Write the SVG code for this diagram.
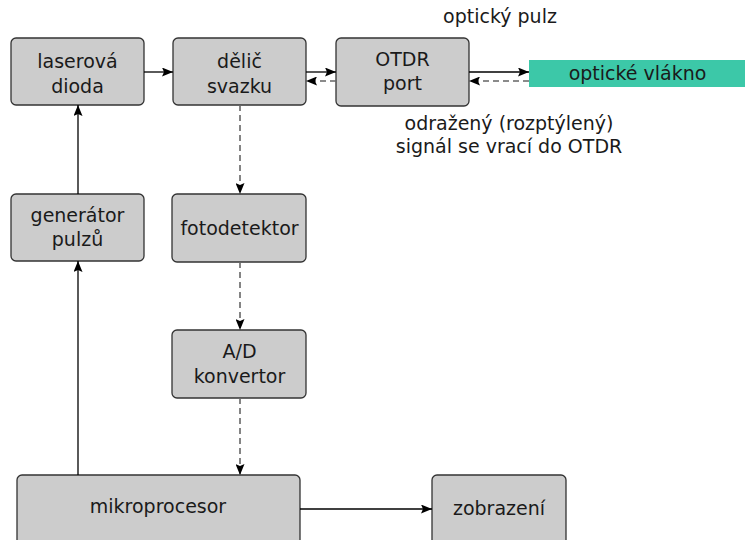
<svg xmlns="http://www.w3.org/2000/svg" width="745" height="540" viewBox="0 0 745 540">
<defs>
<marker id="ah" viewBox="0 0 11 9" refX="11" refY="4.5" markerWidth="11" markerHeight="9" markerUnits="userSpaceOnUse" orient="auto">
<path d="M0,0 L11,4.5 L0,9 L2,4.5 z" fill="#000"/>
</marker>
<style>
.box{fill:#cccccc;stroke:#333;stroke-width:1.3}
text{font-family:"DejaVu Sans","Liberation Sans",sans-serif;font-size:19px;fill:#1a1a1a;text-anchor:middle}
.s{fill:none;stroke:#000;stroke-width:1.3;marker-end:url(#ah)}
.d{fill:none;stroke:#666;stroke-width:1.6;stroke-dasharray:6,4;marker-end:url(#ah)}
</style>
</defs>
<rect width="745" height="540" fill="#fff"/>
<g id="laser"><rect class="box" x="11" y="38" width="133" height="67" rx="5"/><text x="77.5" y="67.5">laserová</text><text x="77.5" y="93">dioda</text></g>
<g id="delic"><rect class="box" x="173" y="38" width="133" height="67" rx="5"/><text x="239.5" y="67.5">dělič</text><text x="239.5" y="93">svazku</text></g>
<g id="otdr"><rect class="box" x="336" y="38" width="133" height="68" rx="5"/><text x="402.5" y="66">OTDR</text><text x="402.5" y="90">port</text></g>
<g id="vlakno"><rect x="529" y="60" width="216" height="27" fill="#3cc8a8"/><text x="637.5" y="80">optické vlákno</text></g>
<g id="generator"><rect class="box" x="11" y="194" width="133" height="67" rx="5"/><text x="77.5" y="222">generátor</text><text x="77.5" y="246">pulzů</text></g>
<g id="fotodetektor"><rect class="box" x="172" y="194" width="134" height="68" rx="5"/><text x="239.5" y="235">fotodetektor</text></g>
<g id="ad"><rect class="box" x="172" y="330" width="134" height="68" rx="5"/><text x="239.5" y="358">A/D</text><text x="239.5" y="383">konvertor</text></g>
<g id="mikroprocesor"><rect class="box" x="17" y="475" width="283" height="80" rx="5"/><text x="158" y="513">mikroprocesor</text></g>
<g id="zobrazeni"><rect class="box" x="432" y="475" width="134" height="80" rx="5"/><text x="499" y="515">zobrazení</text></g>
<g id="labels"><text x="500" y="23">optický pulz</text><text x="509" y="130">odražený (rozptýlený)</text><text x="509" y="153">signál se vrací do OTDR</text></g>
<g id="connectors">
<path class="s" d="M144,72 H173"/>
<path class="s" d="M306,72 H336"/>
<path class="d" d="M336,81 H306"/>
<path class="s" d="M469,72 H529"/>
<path class="d" d="M529,81 H469"/>
<path class="d" d="M240,105 V194"/>
<path class="d" d="M240,262 V330"/>
<path class="d" d="M240,398 V475"/>
<path class="s" d="M78,194 V105"/>
<path class="s" d="M78,475 V261"/>
<path class="s" d="M300,509 H432"/>
</g>
</svg>
